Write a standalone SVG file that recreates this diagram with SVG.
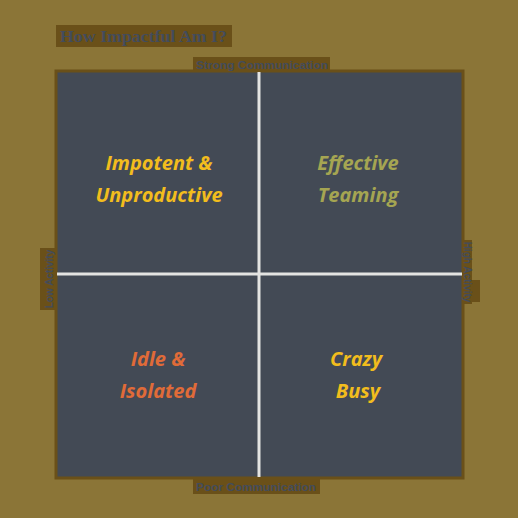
<svg xmlns="http://www.w3.org/2000/svg" width="518" height="518" viewBox="0 0 518 518">
  <style>
    .lblbox { fill: #6a5019; }
    .lbl { font-family: "Liberation Serif", serif; font-weight: bold; fill: #434c5c; }
    .axis { font-family: "Liberation Sans", sans-serif; font-weight: bold; font-size: 10px; fill: #434c5c; }
    .quad { font-family: "Open Sans", "Lato", sans-serif; font-style: italic; font-weight: bold; font-size: 20px; text-anchor: middle; }
    .cross { stroke: #e4e4e2; stroke-width: 3; }
  </style>
  <rect x="0" y="0" width="518" height="518" fill="#8b7537"/>

  <!-- title -->
  <g id="title">
    <rect class="lblbox" x="56" y="25" width="176" height="22"/>
    <text class="lbl" x="60" y="42" font-size="17" textLength="167" lengthAdjust="spacingAndGlyphs">How Impactful Am I?</text>
  </g>

  <!-- grid -->
  <g id="grid">
    <rect x="56" y="71" width="407" height="407" fill="#434a55" stroke="#6a5019" stroke-width="3"/>
  </g>

  <g id="connectors">
    <line class="cross" x1="259" y1="72" x2="259" y2="477"/>
    <line class="cross" x1="57" y1="274" x2="462" y2="274"/>
  </g>

  <!-- axis labels -->
  <g id="axis-top">
    <rect class="lblbox" x="193" y="57" width="137" height="15"/>
    <text class="axis" x="262" y="69" text-anchor="middle" textLength="132" lengthAdjust="spacingAndGlyphs">Strong Communication</text>
  </g>
  <g id="axis-bottom">
    <rect class="lblbox" x="193" y="478" width="127" height="16"/>
    <text class="axis" x="256" y="491" text-anchor="middle" textLength="120" lengthAdjust="spacingAndGlyphs">Poor Communication</text>
  </g>
  <g id="axis-left">
    <rect class="lblbox" x="40" y="248" width="17" height="62"/>
    <text class="axis" transform="translate(53 279) rotate(-90)" text-anchor="middle">Low Activity</text>
  </g>
  <g id="axis-right">
    <rect class="lblbox" x="462" y="240" width="10" height="64"/>
    <rect class="lblbox" x="470" y="280" width="10" height="22"/>
    <text class="axis" transform="translate(464 272) rotate(90)" text-anchor="middle">High Activity</text>
  </g>

  <!-- quadrants -->
  <g id="q-impotent">
    <text class="quad" fill="#f2bd1d"><tspan x="159" y="170">Impotent &amp;</tspan><tspan x="159" y="202">Unproductive</tspan></text>
  </g>
  <g id="q-effective">
    <text class="quad" fill="#a5a552"><tspan x="358" y="170">Effective</tspan><tspan x="358" y="202">Teaming</tspan></text>
  </g>
  <g id="q-idle">
    <text class="quad" fill="#e06b38"><tspan x="158" y="366">Idle &amp;</tspan><tspan x="158" y="398">Isolated</tspan></text>
  </g>
  <g id="q-crazy">
    <text class="quad" fill="#f2bd1d"><tspan x="356" y="366">Crazy</tspan><tspan x="358" y="398">Busy</tspan></text>
  </g>
</svg>
